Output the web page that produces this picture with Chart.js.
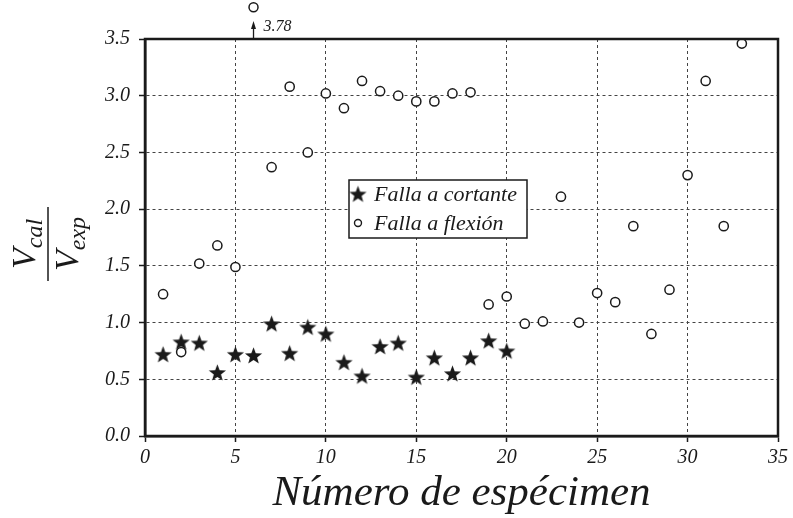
<!DOCTYPE html>
<html>
<head>
<meta charset="utf-8">
<script src="https://cdn.jsdelivr.net/npm/chart.js@4.4.0/dist/chart.umd.min.js"></script>
<style>
  html, body { margin: 0; padding: 0; background: #fff; }
  canvas { display: block; }
</style>
</head>
<body>
<canvas id="myChart" width="793" height="518"></canvas>
<script>
// Specimen numbers (x-axis)
var specimens = [1,2,3,4,5,6,7,8,9,10,11,12,13,14,15,16,17,18,19,20,21,22,23,24,25,26,27,28,29,30,31,32,33];
// Vcal/Vexp, flexure failure (specimen 6 is off the scale: 3.78)
var flexion = [1.25,0.74,1.52,1.68,1.49,3.78,2.37,3.08,2.50,3.02,2.89,3.13,3.04,3.00,2.95,2.95,3.02,3.03,
               1.16,1.23,0.99,1.01,2.11,1.00,1.26,1.18,1.85,0.90,1.29,2.30,3.13,1.85,3.46];
// Vcal/Vexp, shear failure (specimens 1..20)
var cortante = [0.72,0.83,0.82,0.56,0.72,0.71,0.99,0.73,0.96,0.90,0.65,0.53,0.79,0.82,0.52,0.69,0.55,0.69,0.84,0.75];

var serif = '"Liberation Serif", "Times New Roman", serif';
var ink = '#1a1a1a';

// filled five point star used as marker
function starCanvas(size) {
  var c = document.createElement('canvas');
  c.width = size; c.height = size;
  var g = c.getContext('2d');
  var cx = size / 2, cy = size / 2 + 0.8, R = size / 2 - 0.5, r = R * 0.42;
  g.beginPath();
  for (var i = 0; i < 10; i++) {
    var rad = i % 2 ? r : R;
    var ang = -Math.PI / 2 + i * Math.PI / 5;
    g.lineTo(cx + rad * Math.cos(ang), cy + rad * Math.sin(ang));
  }
  g.closePath();
  g.fillStyle = ink;
  g.fill();
  return c;
}
var star = starCanvas(19);

function pts(xs, ys) {
  return ys.map(function (v, i) { return { x: xs[i], y: v }; });
}

var decorations = {
  id: 'decorations',
  afterDraw: function (chart) {
    var ctx = chart.ctx, a = chart.chartArea, sx = chart.scales.x, sy = chart.scales.y;
    ctx.save();
    // frame
    ctx.strokeStyle = ink;
    ctx.lineWidth = 2.5;
    ctx.strokeRect(a.left, a.top, a.right - a.left, a.bottom - a.top);

    // off-scale point (Chart.js skips points outside the chart area)
    var ax = sx.getPixelForValue(specimens[5]);
    var ay = sy.getPixelForValue(flexion[5]);
    ctx.beginPath();
    ctx.arc(ax, ay, 4.5, 0, Math.PI * 2);
    ctx.fillStyle = '#fff';
    ctx.fill();
    ctx.lineWidth = 1.5;
    ctx.stroke();

    // arrow to off-scale point
    ctx.lineWidth = 1.3;
    ctx.beginPath();
    ctx.moveTo(ax, a.top);
    ctx.lineTo(ax, a.top - 12);
    ctx.stroke();
    ctx.beginPath();
    ctx.moveTo(ax, a.top - 18);
    ctx.lineTo(ax - 2.5, a.top - 10);
    ctx.lineTo(ax + 2.5, a.top - 10);
    ctx.closePath();
    ctx.fillStyle = ink;
    ctx.fill();
    ctx.font = 'italic 16px ' + serif;
    ctx.textAlign = 'left';
    ctx.textBaseline = 'middle';
    ctx.fillText(flexion[5].toFixed(2), ax + 10, a.top - 12);

    // legend box
    var lx = a.left + 204, ly = a.top + 141, lw = 178, lh = 58;
    ctx.fillStyle = '#fff';
    ctx.fillRect(lx, ly, lw, lh);
    ctx.lineWidth = 1.5;
    ctx.strokeRect(lx, ly, lw, lh);
    ctx.drawImage(star, lx + 9 - 9.5, ly + 14 - 9.5);
    ctx.beginPath();
    ctx.arc(lx + 9, ly + 43, 3.5, 0, Math.PI * 2);
    ctx.lineWidth = 1.4;
    ctx.stroke();
    ctx.fillStyle = ink;
    ctx.font = 'italic 22px ' + serif;
    ctx.textBaseline = 'alphabetic';
    ctx.fillText('Falla a cortante', lx + 25, ly + 21);
    ctx.fillText('Falla a flexión', lx + 25, ly + 50);

    // x title
    ctx.font = 'italic 43px ' + serif;
    ctx.textAlign = 'center';
    ctx.fillText('Número de espécimen', (a.left + a.right) / 2, 505);

    // y title: Vcal / Vexp fraction
    ctx.translate(48, 244);
    ctx.rotate(-Math.PI / 2);
    ctx.textAlign = 'left';
    function part(main, sub, base) {
      ctx.font = 'italic 34px ' + serif;
      var w1 = ctx.measureText(main).width;
      ctx.font = 'italic 24px ' + serif;
      var w2 = ctx.measureText(sub).width;
      var x0 = -(w1 + w2) / 2;
      ctx.font = 'italic 34px ' + serif;
      ctx.fillText(main, x0, base);
      ctx.font = 'italic 24px ' + serif;
      ctx.fillText(sub, x0 + w1, base + 7);
    }
    part('V', 'cal', -13);
    ctx.lineWidth = 1.5;
    ctx.beginPath();
    ctx.moveTo(-37, 0);
    ctx.lineTo(37, 0);
    ctx.stroke();
    part('V', 'exp', 30);
    ctx.restore();
  }
};

var ctx = document.getElementById('myChart');
var myChart = new Chart(ctx, {
  type: 'scatter',
  data: {
    datasets: [
      {
        label: 'Falla a flexión',
        data: pts(specimens, flexion),
        pointStyle: 'circle',
        pointRadius: 4.6,
        pointBorderWidth: 1.5,
        borderColor: ink,
        backgroundColor: '#fff',
        order: 0
      },
      {
        label: 'Falla a cortante',
        data: pts(specimens, cortante),
        pointStyle: star,
        pointRadius: 9,
        borderColor: ink,
        backgroundColor: ink,
        order: 1
      }
    ]
  },
  options: {
    responsive: false,
    animation: false,
    events: [],
    layout: { padding: { top: 39, right: 15, left: 0, bottom: 0 } },
    plugins: { legend: { display: false }, tooltip: { enabled: false } },
    scales: {
      x: {
        type: 'linear',
        min: 0, max: 35,
        afterFit: function (s) { s.height = 82; },
        border: { color: ink, width: 2.5, dash: [3, 3] },
        grid: { color: '#444', lineWidth: 1, tickColor: ink, tickLength: 6, tickWidth: 1.5 },
        ticks: {
          stepSize: 5, color: ink, padding: 4, maxRotation: 0,
          font: { family: serif, style: 'italic', size: 20 }
        }
      },
      y: {
        min: 0, max: 3.5,
        afterFit: function (s) { s.width = 145; },
        border: { color: ink, width: 2.5, dash: [3, 3] },
        grid: { color: '#444', lineWidth: 1, tickColor: ink, tickLength: 6, tickWidth: 1.5 },
        ticks: {
          stepSize: 0.5, color: ink, padding: 9,
          font: { family: serif, style: 'italic', size: 20 },
          callback: function (v) { return v.toFixed(1); }
        }
      }
    }
  },
  plugins: [decorations]
});
</script>
</body>
</html>
